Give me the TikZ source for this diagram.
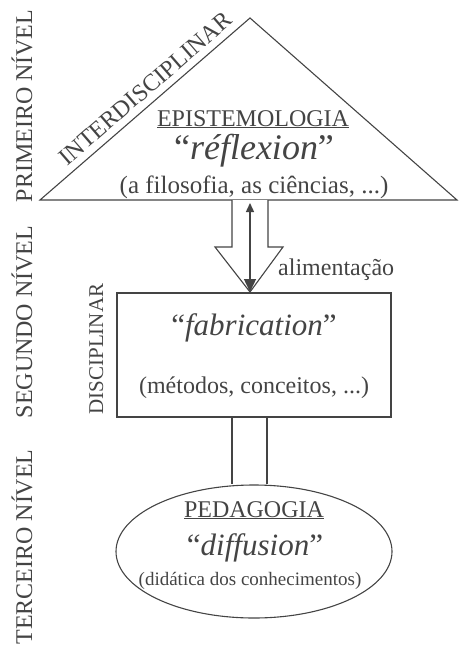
\documentclass[tikz,border=0pt]{standalone}
\usepackage{fontspec}
\setmainfont{Liberation Serif}
\usepackage{xcolor}
\usepackage{tikz}
\usetikzlibrary{shapes.geometric, arrows.meta, positioning, calc}
\definecolor{ink}{HTML}{444444}

\begin{document}
\begin{tikzpicture}[
  x=1pt, y=1pt,
  font=\fontsize{24}{28}\selectfont,
  every node/.style={align=center, inner sep=0pt, text=ink},
  edge/.style={draw=ink, line width=1.1pt},
  word/.style={anchor=base},
  quoted/.style={anchor=base, font=\fontsize{31}{34}\selectfont},
  level/.style={rotate=90, anchor=base},
  feed/.style={{Triangle[length=9pt, width=8pt]}-{Triangle[length=13pt, width=12pt]},
    line width=1.4pt, draw=ink},
]
  \useasboundingbox (0,0) rectangle (459,-646);

  % primeiro nivel
  \coordinate (apex) at (250,-18);
  \coordinate (baseL) at (40,-200);
  \coordinate (baseR) at (457,-200);
  \draw[edge] (baseL) -- (apex) -- (baseR) -- cycle;
  \path (baseL) -- (apex) node[pos=0.55, sloped, above=7pt] (inter) {INTERDISCIPLINAR};
  \node[word] (epist) at (253,-126) {\underline{EPISTEMOLOGIA}};
  \node[quoted, font=\fontsize{36}{40}\selectfont] (refl) at (254,-159) {“\textit{réflexion}”};
  \node[word, font=\fontsize{25}{28}\selectfont] (filo) at (254,-193) {(a filosofia, as ciências, ...)};

  % segundo nivel
  \node[edge, minimum width=274pt, minimum height=124pt] (disc) at (254,-355) {};
  \coordinate (tip) at (250,-292);
  \draw[edge, fill=white] (232,-200) -- (232,-247) -- (215,-247) -- (tip)
    -- (283,-247) -- (268,-247) -- (268,-200);
  \draw[feed] (250,-203) -- (tip);
  \node[anchor=base west] (alim) at (278,-275) {alimentação};
  \node[quoted] (fabr) at (254,-335) {“\textit{fabrication}”};
  \node[word] (metod) at (254,-393) {(métodos, conceitos, ...)};
  \node[level, font=\fontsize{21}{24}\selectfont] (discl) at (103,-349) {DISCIPLINAR};

  % terceiro nivel
  \node[edge, ellipse, minimum width=276pt, minimum height=133pt] (pedag) at (254,-551.5) {};
  \coordinate (linkL) at (232,-417);
  \coordinate (linkR) at (267,-417);
  \draw[edge] (linkL) -- (linkL |- pedag.north);
  \draw[edge] (linkR) -- (linkR |- pedag.north);
  \node[word] (peda) at (254,-517) {\underline{PEDAGOGIA}};
  \node[quoted] (diff) at (255,-555) {“\textit{diffusion}”};
  \node[word, font=\fontsize{19}{22}\selectfont] (dida) at (250,-585) {(didática dos conhecimentos)};

  % niveis
  \node[level] (lev1) at (32,-106) {PRIMEIRO NÍVEL};
  \node[level] (lev2) at (32,-322) {SEGUNDO NÍVEL};
  \node[level] (lev3) at (32,-547) {TERCEIRO NÍVEL};
\end{tikzpicture}
\end{document}
